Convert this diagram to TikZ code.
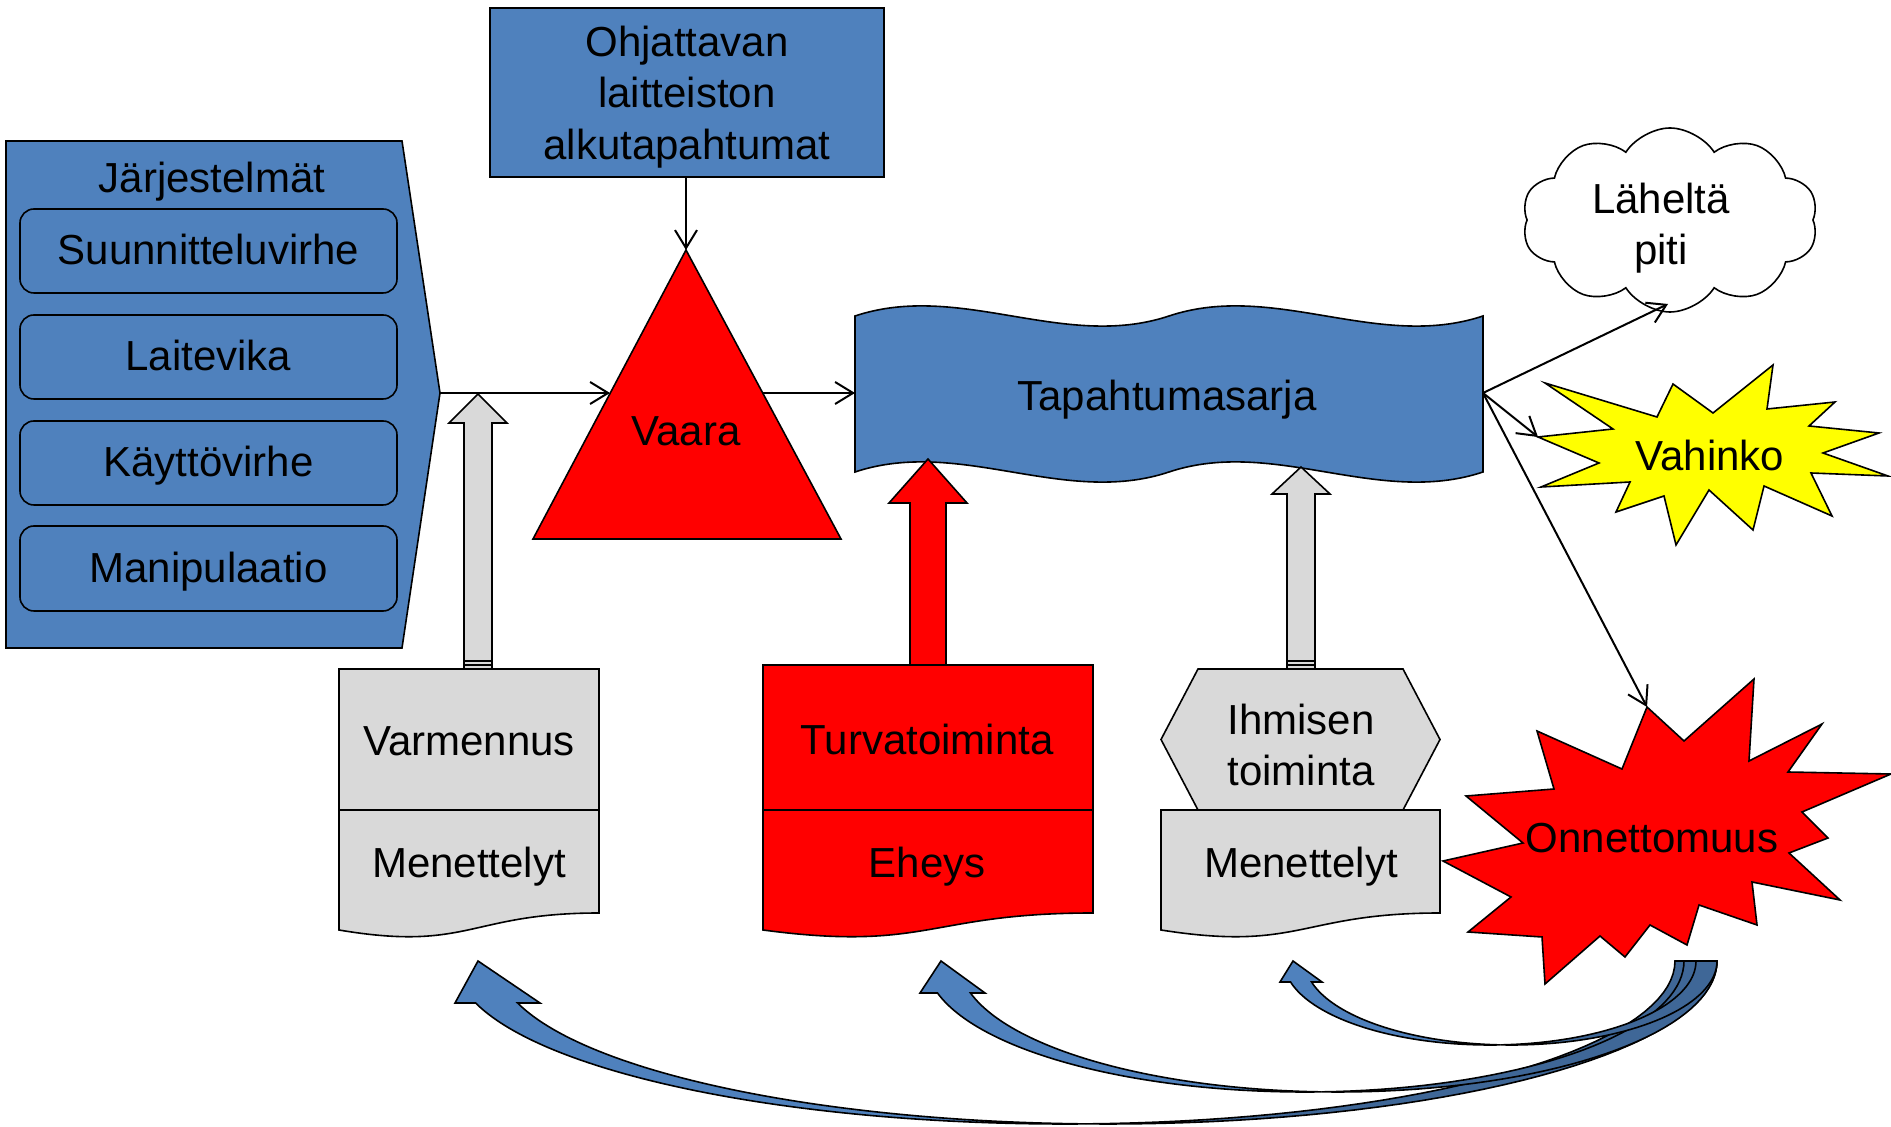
\documentclass[tikz,border=0pt]{standalone}
\usepackage{fontspec}
\setmainfont{Liberation Sans}
\usetikzlibrary{arrows.meta,shapes.symbols}
\definecolor{pptblue}{RGB}{79,129,189}
\definecolor{pptdark}{RGB}{63,103,151}
\definecolor{pptgray}{RGB}{217,217,217}
\definecolor{pptred}{RGB}{255,0,0}
\definecolor{pptyellow}{RGB}{255,255,0}

\begin{document}
\begin{tikzpicture}[x=0.5pt, y=-0.5pt,
  font=\fontsize{21pt}{25.6pt}\selectfont,
  outl/.style={draw=black, line width=0.8pt},
  rbox/.style={outl, fill=pptblue, rounded corners=7pt},
  conn/.style={black, line width=1pt, -{Straight Barb[length=9pt,width=11pt]}},
  lbl/.style={inner sep=0pt, align=center}]
  % Canvas: coordinates are pixels of the 1891 x 1127 layout
  \useasboundingbox (0,0) rectangle (1891,1127);

  % Left block: systems
  \draw[outl, fill=pptblue] (6,141) -- (402,141) -- (440,393) coordinate (jtip)
    -- (402,648) -- (6,648) -- cycle;
  \node[lbl] (jarj) at (212,181.5) {Järjestelmät};
  \foreach \ya/\yb/\nm/\txt in {209/293/suun/Suunnitteluvirhe, 315/399/lait/Laitevika,
      421/505/kayt/Käyttövirhe, 526/611/mani/Manipulaatio}{
    \draw[rbox] (20,\ya) rectangle (397,\yb);
    \node[lbl, anchor=base] (\nm) at (208.5,{(\ya+\yb)/2+14}) {\txt};
  }

  % Top box
  \draw[outl, fill=pptblue] (490,8) rectangle (884,177);
  \coordinate (ohjS) at (686,177);
  \node[lbl] (ohj) at (687,97) {Ohjattavan\\laitteiston\\alkutapahtumat};

  % Hazard triangle
  \draw[outl, fill=pptred] (686,250) coordinate (vtop) -- (841,539) -- (533,539) -- cycle;
  \coordinate (vleft) at (610,393);
  \coordinate (vright) at (763,393);
  \node[lbl] (vaara) at (686,431) {Vaara};

  % Event sequence (double wave)
  \draw[outl, fill=pptblue] (855,316)
    .. controls (960,281) and (1064,351) .. (1169,316)
    .. controls (1274,281) and (1378,351) .. (1483,316)
    -- (1483,472)
    .. controls (1378,507) and (1274,437) .. (1169,472)
    .. controls (1064,507) and (960,437) .. (855,472) -- cycle;
  \coordinate (tapL) at (855,393);
  \coordinate (tapR) at (1483,393);
  \node[lbl] (tapa) at (1167,399.5) {Tapahtumasarja};

  % Outcomes
  \node[cloud, cloud puffs=10, cloud puff arc=115, aspect=1.6, outl, fill=white,
    minimum width=148pt, minimum height=92pt, inner sep=0pt] (lahe) at (1670,220) {};
  \coordinate (laheS) at (1668,304);
  \node[lbl] (lahetxt) at (1661,228.5) {Läheltä\\piti};

  \draw[outl, fill=pptyellow] (1538,437) coordinate (vahL) -- (1613,429) -- (1545,383)
    -- (1657,417) -- (1673,384) -- (1713,413) -- (1773,365) -- (1767,409) -- (1835,402)
    -- (1809,426) -- (1879,433) -- (1823,453) -- (1888,476) -- (1811,473) -- (1832,516)
    -- (1764,486) -- (1753,530) -- (1709,490) -- (1676,545) -- (1664,496) -- (1616,512)
    -- (1630,482) -- (1541,487) -- (1599,463) -- cycle;
  \node[lbl] (vahi) at (1710,455) {Vahinko};

  \draw[outl, fill=pptred] (1647,707) coordinate (onnT) -- (1684,741) -- (1754,679)
    -- (1749,761) -- (1822,724) -- (1788,772) -- (1891,774) -- (1802,812) -- (1828,838)
    -- (1789,853) -- (1840,900) -- (1752,882) -- (1757,925) -- (1699,905) -- (1687,945)
    -- (1650,925) -- (1625,957) -- (1600,936) -- (1545,984) -- (1542,937) -- (1468,932)
    -- (1511,897) -- (1443,861) -- (1523,843) -- (1466,796) -- (1554,789) -- (1537,731)
    -- (1622,769) -- cycle;
  \node[lbl] (onne) at (1652,838) {Onnettomuus};

  % Barriers
  \draw[outl, fill=pptgray] (464,669) -- (464,423) -- (449,423) -- (478,394) -- (507,423)
    -- (492,423) -- (492,669) -- cycle;
  \draw[black, line width=0.6pt] (464,661) -- (492,661) (464,665) -- (492,665);
  \draw[outl, fill=pptgray] (339,669) rectangle (599,810);
  \draw[outl, fill=pptgray] (339,810) -- (599,810) -- (599,913)
    .. controls (469,913) and (469,952) .. (339,930) -- cycle;
  \node[lbl] (varm) at (469,741) {Varmennus};
  \node[lbl] (men1) at (469,866.5) {Menettelyt};

  \draw[outl, fill=pptred] (910,665) -- (910,503) -- (889,503) -- (928,459) -- (967,503)
    -- (946,503) -- (946,665) -- cycle;
  \draw[outl, fill=pptred] (763,665) rectangle (1093,810);
  \draw[outl, fill=pptred] (763,810) -- (1093,810) -- (1093,913)
    .. controls (928,913) and (928,952) .. (763,930) -- cycle;
  \node[lbl] (turv) at (927,739) {Turvatoiminta};
  \node[lbl] (ehey) at (927,866.5) {Eheys};

  \draw[outl, fill=pptgray] (1287,669) -- (1287,494) -- (1272,494) -- (1301,467) -- (1330,494)
    -- (1315,494) -- (1315,669) -- cycle;
  \draw[black, line width=0.6pt] (1287,661) -- (1315,661) (1287,665) -- (1315,665);
  \draw[outl, fill=pptgray] (1161,739.5) -- (1198,669) -- (1403,669) -- (1440,739.5)
    -- (1403,810) -- (1198,810) -- cycle;
  \draw[outl, fill=pptgray] (1161,810) -- (1440,810) -- (1440,913)
    .. controls (1300,913) and (1300,952) .. (1161,930) -- cycle;
  \node[lbl] (ihmi) at (1301,745) {Ihmisen\\toiminta};
  \node[lbl] (men2) at (1301,866.5) {Menettelyt};

  % Connectors
  \draw[conn] (ohjS) -- (vtop);
  \draw[conn] (jtip) -- (vleft);
  \draw[conn] (vright) -- (tapL);
  \draw[conn] (tapR) -- (laheS);
  \draw[conn] (tapR) -- (vahL);
  \draw[conn] (tapR) -- (onnT);

  % Feedback arrows (curved up arrows)
  \foreach \cx/\ra/\rb/\bt/\yb/\tipx/\bl/\br in {1065/610/163/42/1003/478/455/540,
      1305/379/131/33/993/941/920/985, 1490/206/84/21/982/1293/1280/1322}{
    \pgfmathsetmacro\th{180-asin((\yb-961)/\rb)}
    \pgfmathsetmacro\tc{acos(\bt/(2*\ra))}
    \pgfmathsetmacro\tcc{acos(-\bt/(2*\ra))}
    \draw[outl, fill=pptdark]
      plot[domain=\tc:0, samples=40, variable=\q] ({\cx+\ra*cos(\q)},{961+\rb*sin(\q)})
      -- plot[domain=0:\tcc, samples=40, variable=\q] ({\cx+\bt+\ra*cos(\q)},{961+\rb*sin(\q)})
      -- cycle;
    \draw[outl, fill=pptblue]
      plot[domain=\th:\tc, samples=60, variable=\q] ({\cx+\ra*cos(\q)},{961+\rb*sin(\q)})
      -- plot[domain=\tcc:\th, samples=60, variable=\q] ({\cx+\bt+\ra*cos(\q)},{961+\rb*sin(\q)})
      -- (\br,\yb) -- (\tipx,961) -- (\bl,\yb) -- cycle;
  }
\end{tikzpicture}
\end{document}
